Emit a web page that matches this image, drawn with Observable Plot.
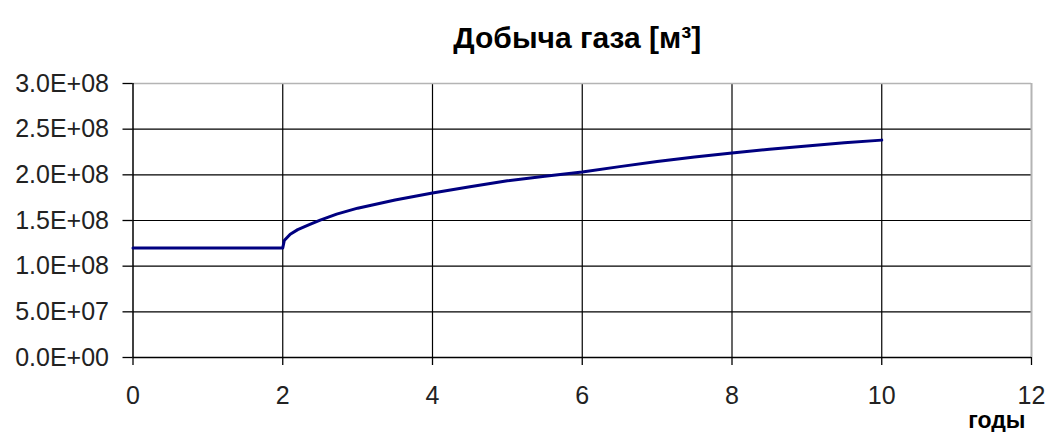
<!DOCTYPE html>
<html>
<head>
<meta charset="utf-8">
<script src="https://cdn.jsdelivr.net/npm/d3@7"></script>
<script src="https://cdn.jsdelivr.net/npm/@observablehq/plot@0.6"></script>
<style>
  html, body { margin: 0; padding: 0; background: #fff; }
  #chart svg { display: block; }
</style>
</head>
<body>
<div id="chart"></div>
<script>
const title = "Добыча газа [м³]";
const xLabel = "годы";
const years = [0, 2, 2.02, 2.1, 2.2, 2.37, 2.5, 2.72, 3, 3.5, 4, 4.5, 5, 5.5, 6, 6.5, 7, 7.5, 8, 8.5, 9, 9.5, 10];
const gas = [1.2e8, 1.2e8, 1.28e8, 1.35e8, 1.40e8, 1.46e8, 1.505e8, 1.57e8, 1.635e8, 1.725e8, 1.80e8, 1.87e8, 1.935e8, 1.985e8, 2.03e8, 2.09e8, 2.145e8, 2.195e8, 2.24e8, 2.28e8, 2.315e8, 2.35e8, 2.38e8];
const xTicks = [0, 2, 4, 6, 8, 10, 12];
const yTicks = [0, 5e7, 1e8, 1.5e8, 2e8, 2.5e8, 3e8];

const data = years.map((x, i) => ({x, y: gas[i]}));
const fmt = v => {
  const [m, e] = v.toExponential(1).toUpperCase().split("E");
  const sign = e[0] === "-" ? "-" : "+";
  const digits = e.replace(/[+-]/, "").padStart(2, "0");
  return `${m}E${sign}${digits}`;
};
const font = "'Liberation Sans', Arial, sans-serif";

const plot = Plot.plot({
  width: 1045,
  height: 432,
  marginLeft: 132.5,
  marginRight: 14,
  marginTop: 83,
  marginBottom: 75,
  style: {fontFamily: font, background: "#fff", overflow: "visible"},
  x: {domain: [0, 12]},
  y: {domain: [0, 3e8]},
  marks: [
    Plot.gridX(xTicks.slice(1, -1), {stroke: "#000", strokeOpacity: 1, strokeWidth: 1.2}),
    Plot.gridY(yTicks.slice(1, -1), {stroke: "#000", strokeOpacity: 1, strokeWidth: 1.2}),
    Plot.ruleX([12], {stroke: "#b4b4b4", strokeWidth: 2}),
    Plot.ruleY([3e8], {stroke: "#b4b4b4", strokeWidth: 1.5}),
    Plot.ruleX([0], {stroke: "#000", strokeWidth: 1.5}),
    Plot.ruleY([0], {stroke: "#000", strokeWidth: 1.5}),
    Plot.axisY(yTicks, {tickSize: 10, tickPadding: 14, tickFormat: fmt, fontSize: 25, stroke: "#000", strokeWidth: 1.3, fill: "#222", label: null}),
    Plot.axisX(xTicks, {tickSize: 8, tickPadding: 21, fontSize: 25, stroke: "#000", strokeWidth: 1.3, fill: "#222", label: null}),
    Plot.line(data, {x: "x", y: "y", stroke: "#000080", strokeWidth: 3}),
    Plot.text([title], {frameAnchor: "top", dy: -45, dx: -5, fontSize: 30, fontWeight: "bold", fill: "#000", lineAnchor: "middle"}),
    Plot.text([xLabel], {frameAnchor: "bottom-right", dx: -6, dy: 63, fontSize: 23, fontWeight: "bold", fill: "#000", textAnchor: "end", lineAnchor: "middle"})
  ]
});
document.getElementById("chart").appendChild(plot);
</script>
</body>
</html>
